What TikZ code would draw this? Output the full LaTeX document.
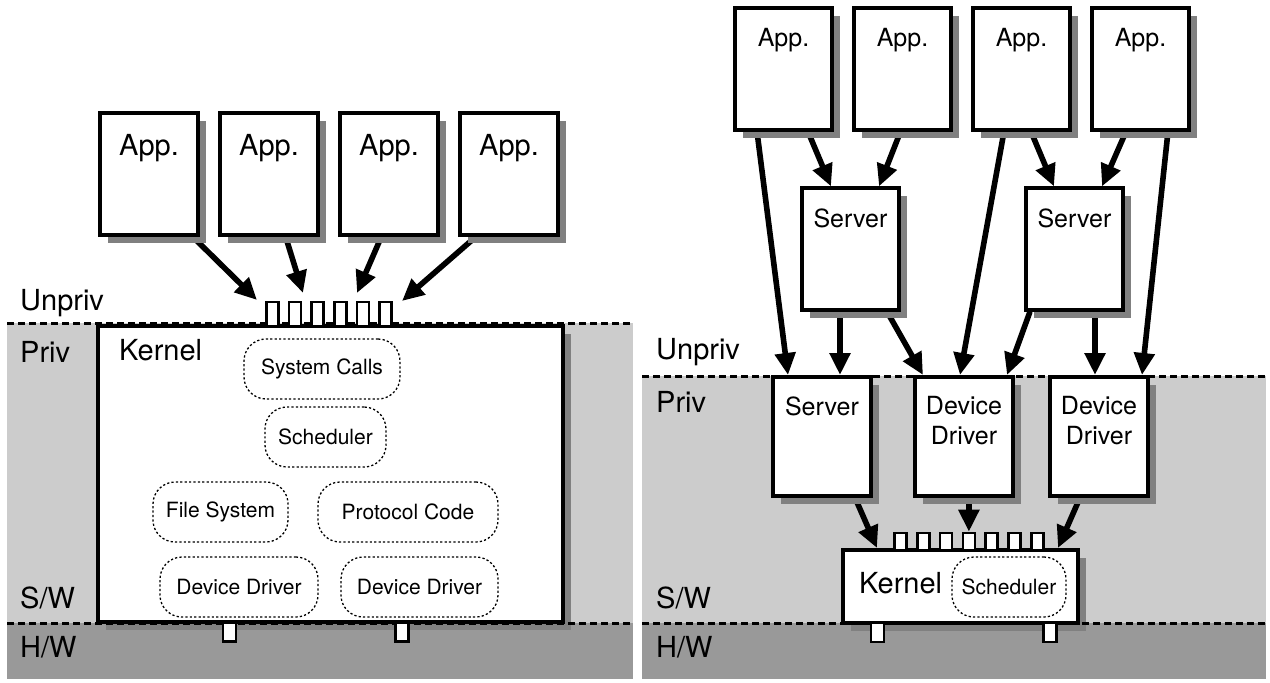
\documentclass[tikz,border=0pt]{standalone}
\usepackage{fontspec}
\setmainfont{TeX Gyre Heros}
\usetikzlibrary{arrows.meta,shadows}
\definecolor{lgray}{gray}{0.8}
\definecolor{dgray}{gray}{0.6}
\definecolor{sgray}{gray}{0.5}
\pgfdeclarelayer{back}
\pgfdeclarelayer{mid}
\pgfsetlayers{back,mid,main}
\begin{document}
\begin{tikzpicture}[x=1pt,y=-1pt,
  box/.style={draw=black, line width=3.2pt, fill=white, inner sep=0pt,
    drop shadow={shadow xshift=8pt, shadow yshift=-8pt, fill=sgray, opacity=1}},
  appL/.style={box, minimum width=98pt, minimum height=122pt},
  appR/.style={box, minimum width=97pt, minimum height=122pt},
  privbox/.style={box, minimum width=98pt, minimum height=119pt},
  intext/.style={anchor=north, inner sep=0pt, align=center},
  bigfont/.style={font=\fontsize{29}{34}\selectfont},
  midfont/.style={font=\fontsize{25}{30}\selectfont},
  bubble/.style={draw=black, line width=1.3pt, dash pattern=on 2.2pt off 2.2pt,
    rounded corners=22pt, inner sep=0pt, minimum height=60pt,
    font=\fontsize{21}{25}\selectfont},
  gate/.style={draw=black, line width=2.6pt, fill=white, minimum width=12pt, inner sep=0pt},
  pin/.style={draw=black, line width=2.6pt, fill=white, minimum width=13pt, minimum height=19pt, inner sep=0pt},
  arr/.style={line width=5.6pt, -{Triangle[length=22pt,width=20pt]}},
  sep/.style={line width=3pt, dash pattern=on 7pt off 4pt},
  lbl/.style={anchor=base west, inner sep=0pt, font=\fontsize{29}{34}\selectfont},
]
\useasboundingbox (0,0) rectangle (1270,683);
\begin{pgfonlayer}{back}
  \fill[white] (0,0) rectangle (1270,683);
  \fill[lgray] (7,323) rectangle (633,623);
  \fill[dgray] (7,623) rectangle (633,679);
  \fill[lgray] (642,376) rectangle (1266,623);
  \fill[dgray] (642,623) rectangle (1266,679);
\end{pgfonlayer}

% ---------------- left panel ----------------
\node[lbl] (unprivL) at (20,310) {Unpriv};
\node[lbl] (privL) at (20,362) {Priv};
\node[lbl] (swL) at (20,608) {S/W};
\node[lbl] (hwL) at (20,657) {H/W};

\node[appL, label={[intext, bigfont, yshift=-23pt]north:App.}] (appL1) at (149,174) {};
\node[appL, label={[intext, bigfont, yshift=-23pt]north:App.}] (appL2) at (269,174) {};
\node[appL, label={[intext, bigfont, yshift=-23pt]north:App.}] (appL3) at (389,174) {};
\node[appL, label={[intext, bigfont, yshift=-23pt]north:App.}] (appL4) at (509,174) {};

\node[box, minimum width=465pt, minimum height=296pt] (kernL) at (330.5,474) {};
\node[lbl] (kernLt) at (119,360) {Kernel};
\node[bubble, minimum width=156pt] (scL) at (322,369) {System Calls};
\node[bubble, minimum width=121pt] (schL) at (325.5,437) {Scheduler};
\node[bubble, minimum width=135pt] (fsL) at (220.5,512) {File System};
\node[bubble, minimum width=180pt] (pcL) at (408,512) {Protocol Code};
\node[bubble, minimum width=158pt] (ddL1) at (239,587) {Device Driver};
\node[bubble, minimum width=157pt] (ddL2) at (419.5,587) {Device Driver};

\coordinate (tL1) at (257,300);
\coordinate (tL2) at (303,293);
\coordinate (tL3) at (357,293);
\coordinate (tL4) at (402,301);
\begin{pgfonlayer}{mid}
  \draw[arr] ([xshift=-7pt]appL1.south east) -- (tL1);
  \draw[arr] ([xshift=16.6pt]appL2.south) -- (tL2);
  \draw[arr] ([xshift=-7.6pt]appL3.south) -- (tL3);
  \draw[arr] ([xshift=-33pt]appL4.south) -- (tL4);
\end{pgfonlayer}

\draw[sep] (7,323) -- (633,323);
\draw[sep] (7,623) -- (633,623);

\foreach \i in {0,...,5} {
  \node[gate, minimum height=24pt] (gL\i) at ({272.5+22.6*\i},314) {};
}
\node[pin] (pinL1) at (229.5,632) {};
\node[pin] (pinL2) at (402,632) {};

% ---------------- right panel ----------------
\node[lbl] (unprivR) at (656,359) {Unpriv};
\node[lbl] (privR) at (656,412) {Priv};
\node[lbl] (swR) at (656,608) {S/W};
\node[lbl] (hwR) at (656,657) {H/W};

\node[appR, label={[intext, midfont, yshift=-22pt]north:App.}] (appR1) at (783.5,69) {};
\node[appR, label={[intext, midfont, yshift=-22pt]north:App.}] (appR2) at (902.5,69) {};
\node[appR, label={[intext, midfont, yshift=-22pt]north:App.}] (appR3) at (1021.5,69) {};
\node[appR, label={[intext, midfont, yshift=-22pt]north:App.}] (appR4) at (1140.5,69) {};

\node[appR, label={[intext, midfont, yshift=-22pt]north:Server}] (srvR1) at (850.5,249) {};
\node[appR, label={[intext, midfont, yshift=-22pt]north:Server}] (srvR2) at (1074.5,249) {};

\node[privbox, label={[intext, midfont, yshift=-21pt]north:Server}] (srvP) at (822,436.5) {};
\node[privbox, label={[intext, midfont, yshift=-21pt]north:Device\\Driver}] (ddP1) at (964,436.5) {};
\node[privbox, label={[intext, midfont, yshift=-21pt]north:Device\\Driver}] (ddP2) at (1099,436.5) {};

\node[box, minimum width=235pt, minimum height=73pt] (kernR) at (960.5,586.5) {};
\node[lbl] (kernRt) at (859,593) {Kernel};
\node[bubble, minimum width=114pt] (schR) at (1009,587) {Scheduler};

\foreach \i in {1,...,7} {
  \node[gate, minimum height=17pt] (gR\i) at ({900.5+22.8*(\i-1)},541.5) {};
}

\coordinate (tR1) at (788,375);
\coordinate (tR2) at (840,375);
\coordinate (tR3) at (923,375);
\coordinate (tR4) at (960,375);
\coordinate (tR5) at (1007,375);
\coordinate (tR6) at (1095,375);
\coordinate (tR7) at (1142,375);
\coordinate (tK1) at (877,548);
\coordinate (tK3) at (1058,548);
\begin{pgfonlayer}{mid}
  \draw[arr] ([xshift=-26.5pt]appR1.south) -- (tR1);
  \draw[arr] ([xshift=24.5pt]appR1.south) -- ([xshift=-19.5pt]srvR1.north);
  \draw[arr] ([xshift=-2pt]appR2.south) -- ([xshift=28.5pt]srvR1.north);
  \draw[arr] ([xshift=-17.5pt]appR3.south) -- (tR4);
  \draw[arr] ([xshift=9.5pt]appR3.south) -- ([xshift=-20.5pt]srvR2.north);
  \draw[arr] ([xshift=-14.5pt]appR4.south) -- ([xshift=27.5pt]srvR2.north);
  \draw[arr] ([xshift=27.5pt]appR4.south) -- (tR7);
  \draw[arr] ([xshift=-10.5pt]srvR1.south) -- (tR2);
  \draw[arr] ([xshift=36.5pt]srvR1.south) -- (tR3);
  \draw[arr] ([xshift=-44.5pt]srvR2.south) -- (tR5);
  \draw[arr] ([xshift=20.5pt]srvR2.south) -- (tR6);
  \draw[arr] ([xshift=33pt]srvP.south) -- (tK1);
  \draw[arr] (ddP1.south -| gR4.north) -- (gR4.north);
  \draw[arr] ([xshift=-19pt]ddP2.south) -- (tK3);
\end{pgfonlayer}

\draw[sep] (642,376) -- (1266,376);
\draw[sep] (642,623) -- (1266,623);

\node[pin] (pinR1) at (877.5,632.5) {};
\node[pin] (pinR2) at (1050,632.5) {};
\end{tikzpicture}
\end{document}
